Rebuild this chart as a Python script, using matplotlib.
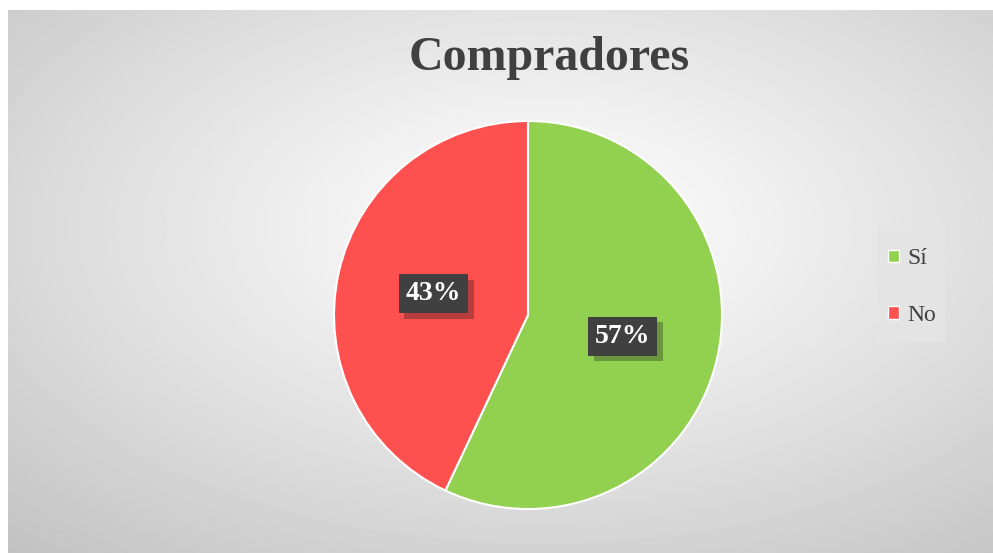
import numpy as np
from matplotlib import pyplot as plt
from matplotlib import patheffects as pe
from matplotlib.patches import Patch, Rectangle

labels = ["Sí", "No"]
values = [57, 43]
colors = ["#92d050", "#ff5050"]
title = "Compradores"

plt.rcParams['font.family'] = ['Liberation Serif', 'DejaVu Serif']

W, H = 993, 553
fig = plt.figure(figsize=(W / 100, H / 100), dpi=100)

# background: radial gradient, white in the middle, grey at the edges
bg = fig.add_axes([8 / W, 0, 1 - 8 / W, 1 - 10 / H])
bg.set_axis_off()
yy, xx = np.mgrid[0:300, 0:500]
cx, cy = 270, 120
r = np.sqrt(((xx - cx) / 500) ** 2 + ((yy - cy) / 300) ** 2)
r = r / r.max()
shade = 1.0 - 0.24 * r ** 1.1
bg.imshow(shade, cmap='gray', vmin=0, vmax=1, aspect='auto', interpolation='bilinear')

# pie
cxp, cyp, rad = 528, 315, 194
ax = fig.add_axes([(cxp - rad) / W, (H - cyp - rad) / H, 2 * rad / W, 2 * rad / H])
wedges, texts, autotexts = ax.pie(values, colors=colors, startangle=90, counterclock=False,
                                  autopct='%d%%', pctdistance=0.5,
                                  wedgeprops=dict(edgecolor='white', linewidth=1.5))
ax.set_xlim(-1, 1)
ax.set_ylim(-1, 1)
ax.set_aspect('auto')
for t in autotexts:
    t.set_color('white')
    t.set_fontsize(20)
    t.set_fontweight('bold')
    t.set_bbox(dict(facecolor='#404040', edgecolor='none', boxstyle='square,pad=0.25'))
    t.get_bbox_patch().set_path_effects([pe.SimplePatchShadow(offset=(4, -4), alpha=0.3), pe.Normal()])

fig.text(549 / W, 1 - 58 / H, title, ha='center', va='center', fontsize=34.5,
         fontweight='bold', color='#404040')

# legend panel
fig.patches.append(Rectangle((877 / W, 1 - 342 / H), 68 / W, 117 / H,
                             transform=fig.transFigure, facecolor='#e4e4e4',
                             edgecolor='none', zorder=1))
handles = [Patch(facecolor=c, edgecolor='white', linewidth=1) for c in colors]
leg = fig.legend(handles, labels, loc='center', bbox_to_anchor=(912 / W, 1 - 287 / H),
                 fontsize=17, frameon=False, labelspacing=1.5,
                 handlelength=0.45, handleheight=0.45, handletextpad=0.35,
                 borderpad=0.3, borderaxespad=0)
for t in leg.get_texts():
    t.set_color('#404040')

fig.savefig('out.png', dpi=100)
